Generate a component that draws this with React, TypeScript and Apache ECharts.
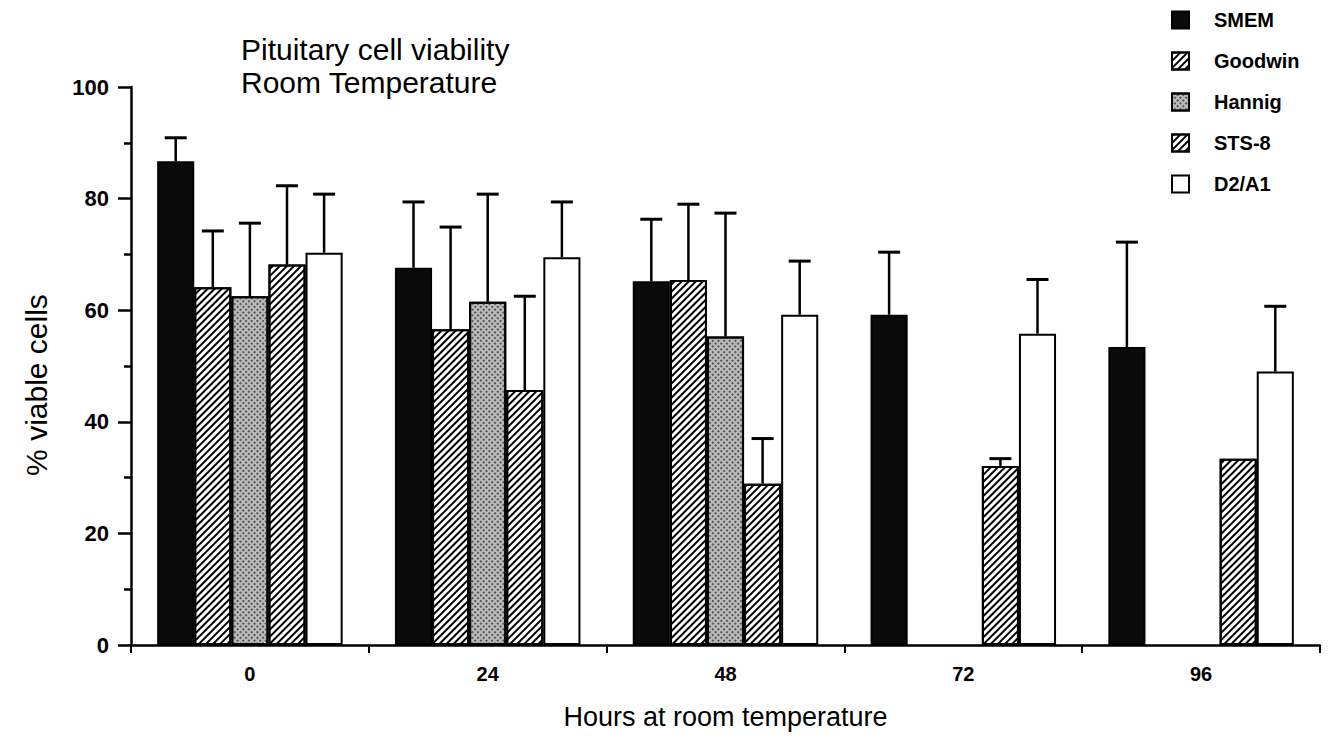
import React, { useEffect, useRef } from "react";
import * as echarts from "echarts";

const categories = ["0", "24", "48", "72", "96"];
const seriesNames = ["SMEM", "Goodwin", "Hannig", "STS-8", "D2/A1"];
const smem = [86.7, 67.6, 65.2, 59.2, 53.4];
const smemSd = [4.2, 11.8, 11.1, 11.2, 18.8];
const goodwin = [64.1, 56.6, 65.4, null, null];
const goodwinSd = [10.1, 18.3, 13.6, null, null];
const hannig = [62.5, 61.5, 55.3, null, null];
const hannigSd = [13.1, 19.3, 22.1, null, null];
const sts8 = [68.2, 45.7, 28.9, 32.1, 33.4];
const sts8Sd = [14.1, 16.8, 8.1, 1.3, null];
const d2a1 = [70.3, 69.5, 59.2, 55.8, 49.0];
const d2a1Sd = [10.5, 9.9, 9.6, 9.7, 11.7];

const FONT = "'Liberation Sans', Arial, Helvetica, sans-serif";
const CAT_GAP = 0.22;

export default function App() {
  const ref = useRef<HTMLDivElement>(null);
  useEffect(() => {
    if (!ref.current) return;
    const chart = echarts.init(ref.current, undefined, { renderer: "svg" });
    const values = [smem, goodwin, hannig, sts8, d2a1];
    const sds = [smemSd, goodwinSd, hannigSd, sts8Sd, d2a1Sd];

    const hatch = {
      symbol: "rect",
      symbolSize: 1,
      dashArrayX: [1, 0],
      dashArrayY: [1.8, 2.4],
      rotation: -Math.PI / 4,
      color: "#000",
      backgroundColor: "#fff",
    };
    const stipple = {
      symbol: "rect",
      symbolSize: 1,
      dashArrayX: [1.5, 1.5],
      dashArrayY: [1.5, 1.5],
      rotation: Math.PI / 4,
      color: "#555",
      backgroundColor: "#dcdcdc",
    };
    const styles: any[] = [
      { color: "#0a0a0a" },
      { color: "#fff", decal: hatch },
      { color: "#bbb", decal: stipple },
      { color: "#fff", decal: hatch },
      { color: "#fff" },
    ];

    const barSeries = seriesNames.map((name, s) => ({
      name,
      type: "bar",
      data: values[s],
      barGap: "0%",
      barCategoryGap: CAT_GAP * 100 + "%",
      itemStyle: { ...styles[s], borderColor: "#000", borderWidth: 2 },
      z: 2,
    }));

    const errData: any[] = [];
    values.forEach((vals, s) =>
      vals.forEach((v, i) => {
        const sd = sds[s][i];
        if (v != null && sd != null) errData.push([i, v, v + sd, s]);
      })
    );

    const option: any = {
      animation: false,
      backgroundColor: "#fff",
      textStyle: { fontFamily: FONT, color: "#000" },
      title: {
        text: "Pituitary cell viability\nRoom Temperature",
        left: 236,
        top: 28,
        textStyle: {
          fontFamily: FONT,
          fontSize: 30,
          fontWeight: "normal",
          lineHeight: 33,
          color: "#000",
        },
      },
      graphic: [
        {
          type: "text",
          x: 36,
          y: 385,
          rotation: Math.PI / 2,
          style: {
            text: "% viable cells",
            font: "30px " + FONT,
            fill: "#000",
            align: "center",
            verticalAlign: "middle",
          },
        },
      ],
      legend: {
        data: seriesNames,
        orient: "vertical",
        left: 1166,
        top: 5,
        itemWidth: 17,
        itemHeight: 17,
        itemGap: 21,
        icon: "rect",
        textStyle: {
          fontFamily: FONT,
          fontSize: 20,
          fontWeight: "bold",
          color: "#000",
          padding: [0, 0, 0, 20],
        },
      },
      grid: { left: 131, right: 20, top: 87, bottom: 98 },
      xAxis: {
        type: "category",
        data: categories,
        name: "Hours at room temperature",
        nameLocation: "middle",
        nameGap: 58,
        nameTextStyle: { fontFamily: FONT, fontSize: 27, color: "#000" },
        axisLine: { lineStyle: { color: "#000", width: 2.5 } },
        axisTick: { show: true, length: 8, lineStyle: { color: "#000", width: 2 } },
        axisLabel: {
          margin: 19,
          fontFamily: FONT,
          fontSize: 20,
          fontWeight: "bold",
          color: "#000",
        },
      },
      yAxis: {
        type: "value",
        min: 0,
        max: 100,
        interval: 20,
        axisLine: { show: true, lineStyle: { color: "#000", width: 2.5 } },
        axisTick: { show: true, length: 13, lineStyle: { color: "#000", width: 2.5 } },
        minorTick: { show: true, splitNumber: 2, length: 7, lineStyle: { color: "#000", width: 2.5 } },
        splitLine: { show: false },
        axisLabel: {
          margin: 22,
          fontFamily: FONT,
          fontSize: 22,
          fontWeight: "bold",
          color: "#000",
        },
      },
      series: [
        ...barSeries,
        {
          type: "custom",
          name: "err",
          data: errData,
          encode: { x: 0, y: [1, 2] },
          z: 3,
          renderItem: (params: any, api: any) => {
            const ci = api.value(0);
            const lo = api.value(1);
            const hi = api.value(2);
            const s = api.value(3);
            const band = api.size([1, 0])[0];
            const bw = (band * (1 - CAT_GAP)) / 5;
            const base = api.coord([ci, lo]);
            const x = base[0] + (s - 2) * bw;
            const yLo = base[1];
            const yHi = api.coord([ci, hi])[1];
            return {
              type: "group",
              children: [
                {
                  type: "line",
                  shape: { x1: x, y1: yLo, x2: x, y2: yHi },
                  style: { stroke: "#000", lineWidth: 2.5 },
                },
                {
                  type: "line",
                  shape: { x1: x - 11, y1: yHi, x2: x + 11, y2: yHi },
                  style: { stroke: "#000", lineWidth: 3 },
                },
              ],
            };
          },
        },
      ],
    };
    chart.setOption(option);
    return () => chart.dispose();
  }, []);
  return (
    <div
      ref={ref}
      style={{ position: "absolute", left: 0, top: 0, width: 1340, height: 743 }}
    />
  );
}
